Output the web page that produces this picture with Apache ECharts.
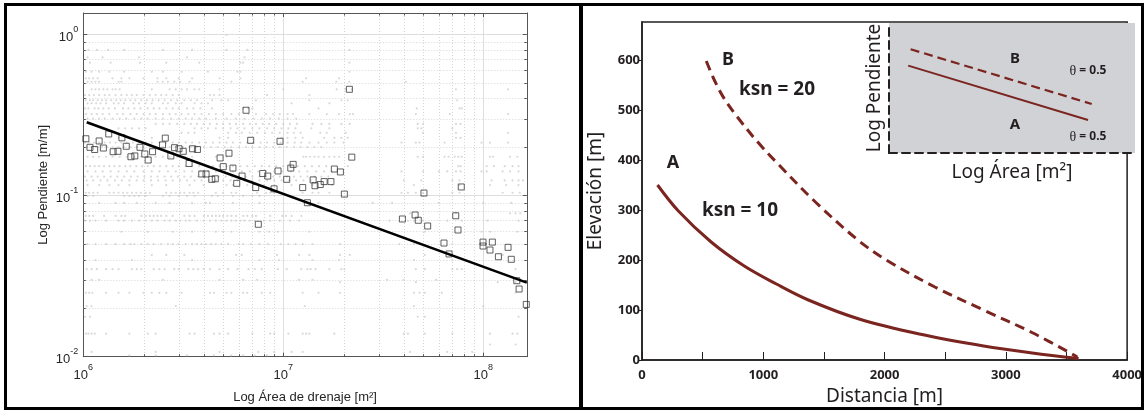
<!DOCTYPE html>
<html><head><meta charset="utf-8">
<script src="https://cdn.jsdelivr.net/npm/echarts@6/dist/echarts.min.js"></script>
<style>html,body{margin:0;padding:0;background:#fff}#c{width:1145px;height:411px}</style>
</head><body><div id="c"></div><script>
// ---------------- LEFT PANEL DATA (area in units of 1e6 m2, slope in m/m) ----------------
const grayRowSlopes = [0.99,0.80,0.72,0.667,0.586,0.533,0.508,0.456,0.42,0.39,0.373,0.347,0.32,0.30,0.278,0.261,0.245,0.228,0.213,0.20,0.174,0.152,0.141,0.131,0.124,0.116,0.104,0.0994,0.09,0.0775,0.0747,0.0698,0.0596,0.05,0.0428,0.0398,0.0349,0.030,0.029,0.0249,0.0206,0.0177,0.0139,0.0119,0.0107,0.0102];
const grayRowAreas = [
 [5.2],
 [1.06,1.17,1.33,1.6,2.5,3.5,5.2,6.6,21.4],
 [1.05,1.25,1.9,3.3,6.4],
 [1.08,1.37,1.92,2.6,3.8,6.1,6.3,21.4],
 [1.03,1.1,1.2,1.35,1.6,2.2,2.5,3.1,4.2,5.9,6.1,21.4],
 [1.03,1.07,1.12,1.18,1.4,1.55,1.7,2.0,2.35,2.6,3.0,3.5,4.8,6.1,13,19],
 [1.05,1.1,1.15,1.2,1.5,1.55,2.35,2.5,2.65,2.85,3.05,3.4,5.5,12.5,18.4,21.4,41],
 [1.1,1.15,1.2,1.26,1.32,1.4,1.45,1.52,2.2,2.7,2.9,3.1,3.3,3.6,3.8,4.8,10,18.5,20.5,22,73,133],
 [1.02,1.07,1.13,1.2,1.28,1.35,1.45,1.55,1.65,1.75,1.85,2.0,2.15,2.3,2.45,2.6,2.8,3.0,4.3,4.5,4.8,8.3,13.5],
 [1.03,1.08,1.12,1.18,1.24,1.3,1.38,1.46,1.54,1.62,1.72,1.82,1.95,2.08,2.22,2.38,2.55,2.75,2.95,3.2,3.45,3.7,4.4,4.9,5.3,7.3,13.5,19.5,21,74],
 [1.05,1.1,1.16,1.22,1.3,1.42,1.5,1.6,1.78,1.9,2.05,2.2,2.5,2.65,2.9,3.1,3.6,3.9,4.2,11,17],
 [1.02,1.06,1.14,1.19,1.26,1.34,1.44,1.58,1.68,1.8,1.93,2.1,2.25,2.4,2.6,2.8,3.0,3.3,3.55,3.85,4.4,6.3,6.7,7.0,15,46.5,76,78],
 [1.03,1.1,1.17,1.25,1.35,1.48,1.58,1.72,1.85,2.0,2.15,2.3,2.5,2.7,2.9,3.1,3.35,3.6,3.9,4.25,4.6,5.0,5.5,6.0,6.7,7.3,8.2,8.9,9.6,10.5,11.2,13.5,16.5,19,21.5,22.3,46,68,133],
 [1.05,1.12,1.2,1.28,1.4,1.52,1.64,1.8,1.95,2.1,2.3,2.5,2.75,3.0,3.25,3.5,3.8,4.1,4.6,5.2,5.8,6.4,7.1,7.8,8.6,9.5,10.5,11.6],
 [2.3,2.5,2.7,2.95,3.2,3.45,3.7,4.0,4.3,4.65,5.0,5.4,5.8,6.3,6.8,7.3,7.9,8.5,9.2,10,10.8,11.7,14,15.5,17,19.5,21.5,47,50,73,77],
 [1.5,1.62,1.75,1.9,2.05,3.6,3.9,4.2,4.6,5.0,5.45,5.9,6.4,7.0,7.6,8.3,9.0,9.8,10.6,11.5,13.8,17,47,49,70],
 [3.1,3.35,3.6,5.3,5.8,6.2,6.8,7.4,8.1,8.8,9.6,10.5,11.3,12.2,15.3,16.5,20.5,50,73,133],
 [1.5,2.2,4.8,5.3,9.8,10.5,11.5,12.5,16,18,19.5,21,73,77],
 [1.02,1.07,1.13,1.2,1.28,1.36,1.45,1.55,1.65,1.77,1.9,2.05,2.2,2.4,2.6,2.8,3.0,3.25,3.5,3.8,4.1,4.45,4.8,5.2,5.6,6.1,6.6,7.1,7.7,8.3,9.0,9.7,10.5,11.4,12.3,13.5,15,16.5,18,20,39,46,48,64,98,108,133],
 [1.04,1.1,1.16,1.24,1.32,1.4,1.5,1.6,1.72,1.85,2.0,2.15,2.3,2.5,2.7,2.9,3.15,3.4,3.7,4.0,4.35,4.7,5.1,5.5,6.0,6.5,7.0,7.6,8.2,8.9,9.6,10.4,11.3,12.2,13.2,14.3,15.5],
 [1.05,1.12,1.2,1.3,1.4,1.52,1.65,1.8,1.95,2.1,2.3,2.5,2.7,2.95,3.2,3.5,4.6,5.2,12.6,13,13.6,14.3,15,16,17,18,19,47,50,64,67,72,75,78,108,112,136,148],
 [1.03,1.08,1.14,1.2,1.27,1.35,1.43,1.52,1.62,1.72,1.84,1.97,2.1,2.25,2.42,2.6,2.8,3.0,3.25,3.5,3.8,4.1,4.45,4.8,5.2,5.6,6.1,6.6,7.2,7.8,8.5,9.2,10,10.9,11.8,12.8,13.9,15.1,16.4,21,75,77,104,113,128,140,150],
 [1.05,1.15,1.25,1.37,1.5,1.65,1.8,2.0,2.2,2.4,2.65,2.9,3.2,3.5,3.85,4.2,4.6,5.1,5.6,6.2,6.8,7.5,8.2,9.0,9.9,10.9,12.0,13.2,14.6,16,17.5,39,50,60,66,73,77,98,104,125,136,150],
 [1.02,1.1,1.18,1.27,1.37,1.48,1.6,1.73,1.87,2.02,2.18,2.35,2.55,2.75,2.97,3.2,3.45,3.75,4.05,4.4,4.75,5.15,5.55,6.0,6.5,7.0,7.6,8.2,8.9,9.6,10.4,11.3,12.2,13.2,14.3,15.5,16.8],
 [1.04,1.12,1.22,1.32,1.44,1.56,1.7,1.85,2.0,2.18,2.37,2.58,2.8,3.05,3.3,3.6,3.9,4.25,4.6,5.0,5.45,5.9,6.4,7.0,7.6,8.3,9.0,9.8,10.7,11.6,12.6,13.7,40,49,70,76,110,128,140,150,158],
 [1.05,1.2,1.35,1.5,1.7,2.2,2.6,3.4,4.0,5.2,5.6,6.6,8.0,9.0,11,14,17.5,45,76,108,130,150],
 [1.03,1.07,1.12,1.18,1.35,1.42,1.5,1.58,1.66,1.75,1.84,1.94,2.05,2.15,2.6,2.75,2.9,3.05,3.2,3.4,3.55,3.75,4.6,5.0,5.5,5.8,7.4,8.2,8.6,9.0,12.5,14,15,17,39,42,46,50,70,76,125,140,152],
 [1.05,1.12,1.6,1.7,1.8,1.9,2.05,2.5,2.7,3.0,3.3,3.6,4.4,4.7,5.6,6.3,7.0,7.6],
 [1.2,1.45,1.6,1.85,2.3,2.7,3.5,4.1,4.3,5.6,7.6,13.3,15,28,35,60,100,138],
 [43,73,136,145,153],
 [1.03,1.07,1.12,1.27,1.45,1.55,1.62,1.95,2.05,2.15,2.25,2.35,2.45,2.6,2.8,3.2,3.4,3.6,4.0,4.2,4.4,4.6,4.8,5.0,5.25,5.5,5.8,6.3,6.6,7.0,7.3,8.6,9.9,10.3,11,12.3],
 [1.02,1.08,1.15,1.3,1.5,1.6,1.75,1.9,2.05,2.2,2.35,2.55,2.7,2.9,3.05,3.25,3.4,3.7,4.0,4.3,4.6,4.9,5.2,5.5,5.8,6.1,6.4,6.8,7.2,8.0,8.6,9.6,10.8,12,34,42,45,50,66,78,105,150],
 [1.55,2.1,2.8,3.5,4.6,5.0,5.5,7.6,8.5,9.4,13.5,51,98,108,148],
 [1.05,1.15,1.3,1.45,1.6,1.72,1.8,1.95,2.1,2.25,2.45,2.65,2.8,3.0,3.25,3.5,3.7,3.9,4.1,4.35,4.6,4.9,5.3,6.0,6.3,6.9,7.6,8.4,9.7,10.6,11.5,12.5,14,19.2,38,45,70],
 [2.2,2.6,3.2,5.8,6.2,9.3,12,13.5,19.2,21.5,51,125],
 [1.15,1.75,3.5,7.6,9.5,14,19,45,70],
 [1.04,1.1,1.17,1.3,1.4,1.5,1.75,1.85,1.95,2.25,2.4,2.55,2.85,3.0,3.35,3.55,3.75,4.0,4.3,4.8,5.3,5.9,6.7,7.2,7.8,9.4,10.4,12.3,13.2,13.7,14.5,17,19.5,20.2,46,51,70,74,78,145],
 [1.1,1.2,2.5,4.8,6.3,7.4,12,14,33,40,58],
 [19.2,46,118,145,153],
 [1.03,1.07,1.11,1.3,1.5,1.7,2.0,2.2,2.4,2.6,3.1,4.3,4.5,5.2,5.5,6.3,6.6,7.8,8.6,12.5,15,19.2,45,48,51,62,145],
 [1.04,1.1,2.9,12.8,45,100],
 [1.02,1.08,47,51,150],
 [1.03,1.06,1.1,1.14,1.3,1.7,2.1,2.3,3.4,3.6,4.5,4.8,5.3,7.0,8.6,9.0,10.6,12.5,13.0,13.5,18,40,42,51,70,108,140,148],
 [108,145],
 [1.1,2.3,4.8,7.5,9,11,12.5,43,66,88],
 [1.7,2.3,3.3,4.5,5.5,6.3,7.2,8.3]
];
const binAreas = [1.03,1.08,1.14,1.20,1.26,1.34,1.41,1.49,1.56,1.64,1.73,1.81,1.92,2.03,2.11,2.22,2.49,2.57,2.74,2.86,3.01,3.16,3.38,3.52,3.72,3.91,4.11,4.39,4.57,4.83,5.01,5.35,5.60,5.85,6.22,6.51,6.87,7.28,7.50,7.89,8.36,8.99,9.41,9.63,10.4,10.9,11.2,12.5,13.2,14.1,14.4,15.3,16.0,17.3,18.0,19.3,20.2,21.4,22.0,39.4,45.6,47.3,50.5,52.7,63.6,67.4,72.8,74.7,77.6,99.7,99.7,111,108,119,133,138,147,151,164];
const binSlopes = [0.225,0.199,0.193,0.218,0.197,0.241,0.187,0.188,0.228,0.202,0.174,0.176,0.199,0.181,0.166,0.187,0.206,0.227,0.176,0.198,0.195,0.188,0.158,0.195,0.193,0.136,0.136,0.126,0.127,0.171,0.151,0.183,0.148,0.119,0.132,0.338,0.220,0.112,0.0663,0.137,0.132,0.110,0.142,0.217,0.126,0.148,0.156,0.112,0.0902,0.125,0.115,0.117,0.122,0.122,0.146,0.140,0.102,0.456,0.173,0.0715,0.0757,0.0702,0.1036,0.0647,0.0507,0.0434,0.0749,0.0611,0.113,0.0514,0.0486,0.0514,0.0459,0.0417,0.0477,0.0402,0.0296,0.0263,0.0211];
const fitAreas = [1.04, 165];
const fitSlopes = [0.285, 0.0288];
const xMinorTicks = [2e6,3e6,4e6,5e6,6e6,7e6,8e6,9e6,2e7,3e7,4e7,5e7,6e7,7e7,8e7,9e7];
const yMinorTicks = [0.02,0.03,0.04,0.05,0.06,0.07,0.08,0.09,0.2,0.3,0.4,0.5,0.6,0.7,0.8,0.9];
const xLogMin = 1e6, xLogMax = 1.65e8, yLogMin = 0.01, yLogMax = 1.356;

// ---------------- RIGHT PANEL DATA ----------------
const distA = [128,300,570,843,1108,1372,1790,2287,2817,3218,3600];
const elevA = [350,298,236,188,152,120,82,52,28,14,3];
const distB = [530,600,680,780,950,1130,1430,1780,2015,2415,2815,3215,3590];
const elevB = [598,558,522,488,437,390,316,240,200,146,100,55,6];
const rightXTicks = [0,500,1000,1500,2000,2500,3000,3500,4000];
const rightXLabels = [0,1000,2000,3000,4000];
const rightYTicks = [0,100,200,300,400,500,600];
const insetAreaA = [0.78, 8.09], insetSlopeA = [6.72, 2.54];
const insetAreaB = [0.88, 8.24], insetSlopeB = [7.98, 3.77];

// ---------------- BUILD ----------------
const LS = '"Liberation Sans", Arial, sans-serif';
const NS = '"Noto Sans", sans-serif';
const TXT = '#262626', INK = '#231f20', RED = '#7b2520', FRAME = '#555';

const grayData = [];
grayRowSlopes.forEach((s, i) => grayRowAreas[i].forEach(a => grayData.push([a * 1e6, s])));
const binData = binAreas.map((a, i) => [a * 1e6, binSlopes[i]]);
const fitData = fitAreas.map((a, i) => [a * 1e6, fitSlopes[i]]);

function powLabel(v) {
  const e = Math.log10(v), r = Math.round(e);
  if (Math.abs(e - r) > 1e-6) return '';
  return '{b|10}{s|' + r + '}';
}
const supRich = {
  b: {fontFamily: LS, fontSize: 13, color: TXT, padding: [6, 0, 0, 0]},
  s: {fontFamily: LS, fontSize: 9, color: TXT, verticalAlign: 'top'}
};

function minorXItem(params, api) {
  const cs = params.coordSys;
  const x = Math.round(api.coord([api.value(0), 0.1])[0]) + 0.5;
  const t = cs.y, b = cs.y + cs.height;
  return {type: 'group', children: [
    {type: 'line', shape: {x1: x, y1: t, x2: x, y2: b}, style: {stroke: '#d6d6d6', lineWidth: 1, lineDash: [1, 2]}},
    {type: 'line', shape: {x1: x, y1: b, x2: x, y2: b - 2.5}, style: {stroke: FRAME, lineWidth: 1}},
    {type: 'line', shape: {x1: x, y1: t, x2: x, y2: t + 2.5}, style: {stroke: FRAME, lineWidth: 1}}
  ]};
}
function minorYItem(params, api) {
  const cs = params.coordSys;
  const y = Math.round(api.coord([1e7, api.value(1)])[1]) + 0.5;
  const l = cs.x, r = cs.x + cs.width;
  return {type: 'group', children: [
    {type: 'line', shape: {x1: l, y1: y, x2: r, y2: y}, style: {stroke: '#d6d6d6', lineWidth: 1, lineDash: [1, 2]}},
    {type: 'line', shape: {x1: l, y1: y, x2: l + 2.5, y2: y}, style: {stroke: FRAME, lineWidth: 1}},
    {type: 'line', shape: {x1: r, y1: y, x2: r - 2.5, y2: y}, style: {stroke: FRAME, lineWidth: 1}}
  ]};
}

const logAxisCommon = {
  type: 'log', logBase: 10,
  axisLine: {show: true, lineStyle: {color: FRAME, width: 1}},
  axisTick: {show: true, inside: true, length: 4, lineStyle: {color: FRAME}},
  minorTick: {show: false}, minorSplitLine: {show: false}
};
const centerText = {align: 'center', verticalAlign: 'middle', textAlign: 'center', textVerticalAlign: 'middle', fill: INK};
const thetaRich = {t: {fontFamily: '"Liberation Serif", serif', fontWeight: 'normal', fontSize: 14, fill: INK, color: INK}};

const chart = echarts.init(document.getElementById('c'), null, {renderer: 'canvas'});
chart.setOption({
  animation: false,
  backgroundColor: '#fff',
  grid: [
    {left: 83.3, top: 13, width: 443.5, height: 343.7, show: false},
    {left: 642, top: 22, width: 494, height: 338, show: true, borderColor: INK, borderWidth: 1.5, backgroundColor: 'transparent'},
    {left: 889, top: 23, width: 246, height: 130, show: true, borderWidth: 0, backgroundColor: '#d1d2d6'}
  ],
  xAxis: [
    Object.assign({}, logAxisCommon, {gridIndex: 0, position: 'bottom', min: xLogMin, max: xLogMax,
      axisLabel: {formatter: powLabel, rich: supRich, margin: 6},
      splitLine: {show: true, lineStyle: {color: '#dedede', width: 1}},
      name: 'Log Área de drenaje [m²]', nameLocation: 'middle', nameGap: 34,
      nameTextStyle: {fontFamily: LS, fontSize: 13, color: TXT}}),
    Object.assign({}, logAxisCommon, {gridIndex: 0, position: 'top', min: xLogMin, max: xLogMax,
      axisLabel: {show: false}, splitLine: {show: false}}),
    {gridIndex: 1, type: 'value', min: 0, max: 4000, interval: 500, position: 'bottom',
      axisLine: {show: true, lineStyle: {color: INK, width: 1.5}},
      axisTick: {show: true, inside: true, length: 8, customValues: rightXTicks, lineStyle: {color: INK, width: 1}},
      axisLabel: {customValues: rightXLabels, formatter: v => String(v), fontFamily: NS, fontWeight: 'bold', fontSize: 13, color: INK, margin: 9},
      splitLine: {show: false},
      name: 'Distancia [m]', nameLocation: 'middle', nameGap: 27,
      nameTextStyle: {fontFamily: NS, fontSize: 19, color: INK}},
    {gridIndex: 2, type: 'value', min: 0, max: 10,
      axisLine: {show: true, lineStyle: {color: INK, width: 2, type: [8, 5]}},
      axisTick: {show: false}, axisLabel: {show: false}, splitLine: {show: false},
      name: 'Log Área [m²]', nameLocation: 'middle', nameGap: 10,
      nameTextStyle: {fontFamily: NS, fontSize: 19, color: INK}}
  ],
  yAxis: [
    Object.assign({}, logAxisCommon, {gridIndex: 0, position: 'left', min: yLogMin, max: yLogMax,
      axisLabel: {formatter: powLabel, rich: supRich, margin: 5},
      splitLine: {show: true, lineStyle: {color: '#dedede', width: 1}},
      name: 'Log Pendiente [m/m]', nameLocation: 'middle', nameGap: 33,
      nameTextStyle: {fontFamily: LS, fontSize: 13, color: TXT}}),
    Object.assign({}, logAxisCommon, {gridIndex: 0, position: 'right', min: yLogMin, max: yLogMax,
      axisLabel: {show: false}, splitLine: {show: false}}),
    {gridIndex: 1, type: 'value', min: 0, max: 676, interval: 100, position: 'left',
      axisLine: {show: true, lineStyle: {color: INK, width: 1.5}},
      axisTick: {show: true, inside: false, length: 4, customValues: rightYTicks, lineStyle: {color: INK, width: 1}},
      axisLabel: {customValues: rightYTicks, formatter: v => String(v), fontFamily: NS, fontWeight: 'bold', fontSize: 13, color: INK, margin: 2},
      splitLine: {show: false},
      name: 'Elevación [m]', nameLocation: 'middle', nameGap: 37,
      nameTextStyle: {fontFamily: NS, fontSize: 19, color: INK}},
    {gridIndex: 2, type: 'value', min: 0, max: 10,
      axisLine: {show: true, lineStyle: {color: INK, width: 2, type: [8, 5]}},
      axisTick: {show: false}, axisLabel: {show: false}, splitLine: {show: false},
      name: 'Log Pendiente', nameLocation: 'middle', nameGap: 5,
      nameTextStyle: {fontFamily: NS, fontSize: 19, color: INK}}
  ],
  series: [
    {type: 'custom', xAxisIndex: 0, yAxisIndex: 0, silent: true, z: 1,
      renderItem: minorXItem, data: xMinorTicks.map(v => [v, 0.1])},
    {type: 'custom', xAxisIndex: 0, yAxisIndex: 0, silent: true, z: 1,
      renderItem: minorYItem, data: yMinorTicks.map(v => [1e7, v])},
    {type: 'scatter', xAxisIndex: 0, yAxisIndex: 0, silent: true, z: 2,
      symbol: 'circle', symbolSize: 2.2, itemStyle: {color: '#d0d0d0'}, data: grayData},
    {type: 'scatter', xAxisIndex: 0, yAxisIndex: 0, silent: true, z: 3,
      symbol: 'rect', symbolSize: 6, itemStyle: {color: 'rgba(255,255,255,0)', borderColor: '#3a3a3a', borderWidth: 1}, data: binData},
    {type: 'line', xAxisIndex: 0, yAxisIndex: 0, silent: true, z: 4, showSymbol: false, symbol: 'none',
      lineStyle: {color: '#000', width: 2.6}, data: fitData},
    {type: 'line', xAxisIndex: 2, yAxisIndex: 2, silent: true, z: 4, symbol: 'none', smooth: 0.35,
      lineStyle: {color: RED, width: 3}, data: distA.map((d, i) => [d, elevA[i]])},
    {type: 'line', xAxisIndex: 2, yAxisIndex: 2, silent: true, z: 4, symbol: 'none', smooth: 0.35,
      lineStyle: {color: RED, width: 3, type: [10, 6]}, data: distB.map((d, i) => [d, elevB[i]])},
    {type: 'line', xAxisIndex: 3, yAxisIndex: 3, silent: true, z: 4, symbol: 'none',
      lineStyle: {color: RED, width: 2}, data: insetAreaA.map((a, i) => [a, insetSlopeA[i]])},
    {type: 'line', xAxisIndex: 3, yAxisIndex: 3, silent: true, z: 4, symbol: 'none',
      lineStyle: {color: RED, width: 2.2, type: [9, 5]}, data: insetAreaB.map((a, i) => [a, insetSlopeB[i]])}
  ],
  graphic: [
    {type: 'rect', z: 50, shape: {x: 5.5, y: 4.5, width: 575, height: 404}, style: {fill: 'none', stroke: '#000', lineWidth: 3}},
    {type: 'rect', z: 50, shape: {x: 581.5, y: 4.5, width: 561, height: 404}, style: {fill: 'none', stroke: '#000', lineWidth: 3}},
    {type: 'text', z: 60, x: 728, y: 60, style: Object.assign({text: 'B', fontFamily: NS, fontWeight: 'bold', fontSize: 18}, centerText)},
    {type: 'text', z: 60, x: 777, y: 90, style: Object.assign({text: 'ksn = 20', fontFamily: NS, fontWeight: 'bold', fontSize: 19}, centerText)},
    {type: 'text', z: 60, x: 673, y: 163, style: Object.assign({text: 'A', fontFamily: NS, fontWeight: 'bold', fontSize: 18}, centerText)},
    {type: 'text', z: 60, x: 740, y: 211, style: Object.assign({text: 'ksn = 10', fontFamily: NS, fontWeight: 'bold', fontSize: 19}, centerText)},
    {type: 'text', z: 60, x: 1015, y: 59, style: Object.assign({text: 'B', fontFamily: NS, fontWeight: 'bold', fontSize: 15}, centerText)},
    {type: 'text', z: 60, x: 1015, y: 125, style: Object.assign({text: 'A', fontFamily: NS, fontWeight: 'bold', fontSize: 15}, centerText)},
    {type: 'text', z: 60, x: 1088, y: 71, style: Object.assign({text: '{t|θ} = 0.5', fontFamily: NS, fontWeight: 'bold', fontSize: 12, rich: thetaRich}, centerText)},
    {type: 'text', z: 60, x: 1088, y: 137, style: Object.assign({text: '{t|θ} = 0.5', fontFamily: NS, fontWeight: 'bold', fontSize: 12, rich: thetaRich}, centerText)}
  ]
});
</script></body></html>
